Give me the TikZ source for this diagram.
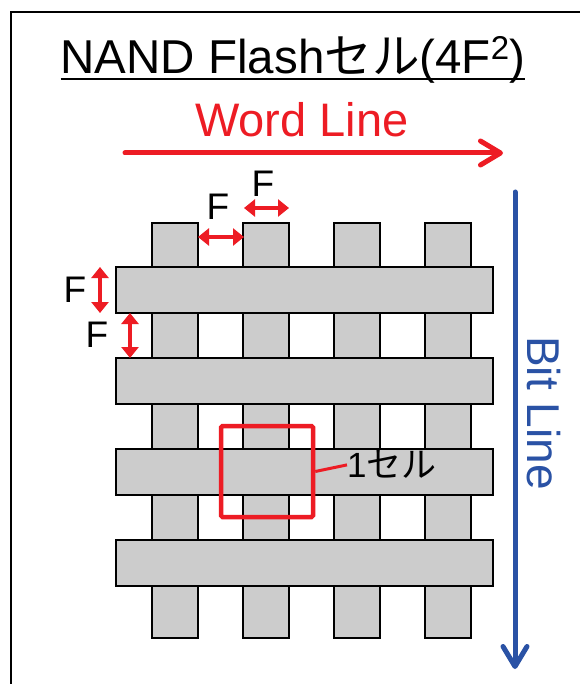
\documentclass[tikz,border=0pt]{standalone}
\usepackage{fontspec}
\setmainfont{Liberation Sans}
\newfontfamily\cjk{Noto Sans CJK JP}
\usetikzlibrary{arrows.meta}
\definecolor{rd}{RGB}{237,28,36}
\definecolor{bl}{RGB}{42,82,165}
\definecolor{gr}{RGB}{204,204,204}
\begin{document}
\begin{tikzpicture}[x=1pt,y=-1pt,
  graybar/.style={fill=gr, draw=black, line width=2pt},
  dimarrow/.style={rd, line width=3.5pt, {Triangle[length=11pt,width=17pt]}-{Triangle[length=11pt,width=17pt]}},
  bigarrow/.style={line width=5pt, line cap=round, -{Straight Barb[length=20pt,width=24pt,round]}},
  flabel/.style={inner sep=0pt, anchor=base, font=\fontsize{37}{37}\selectfont},
  txt/.style={inner sep=0pt}
]
\useasboundingbox (0,0) rectangle (579,684);
\fill[white] (0,0) rectangle (579,684);
% frame
\draw[line width=2pt] (10.5,700) -- (10.5,12) -- (600,12);
% title
\node[txt, anchor=base west] (title) at (60.5,74) {\fontsize{47.5}{47.5}\selectfont NAND Flash{\cjk セル}(4F\raisebox{14pt}{\fontsize{33}{33}\selectfont 2})};
\draw[line width=2.5pt] ([yshift=-5pt]title.base west) -- ([yshift=-5pt]title.base east);
% word line
\node[txt, anchor=base, text=rd] (wl) at (302,137) {\fontsize{47}{47}\selectfont Word Line};
\coordinate (wla) at (125,153);
\coordinate (wlb) at (503,153);
\draw[bigarrow, rd] (wla) -- (wlb);
% bit line
\coordinate (bla) at (515,192);
\coordinate (blb) at (515,669);
\draw[bigarrow, bl] (bla) -- (blb);
\node[txt, anchor=base, rotate=-90, text=bl] (bltxt) at (527,413) {\fontsize{46}{46}\selectfont Bit Line};
% columns
\foreach \i in {0,1,2,3}{
  \draw[graybar] ({152+91*\i},223) rectangle ({198+91*\i},638);
}
% word line bars
\foreach \j in {0,1,2,3}{
  \draw[graybar] (116,{267+91*\j}) rectangle (493,{313+91*\j});
}
% F dimension arrows
\coordinate (h1a) at (198,237); \coordinate (h1b) at (244,237);
\draw[dimarrow] (h1a) -- (h1b);
\node[flabel] (f1) at (218,220) {F};
\coordinate (h2a) at (244,208); \coordinate (h2b) at (289,208);
\draw[dimarrow] (h2a) -- (h2b);
\node[flabel] (f2) at (263,197) {F};
\coordinate (v1a) at (100,267); \coordinate (v1b) at (100,313);
\draw[dimarrow] (v1a) -- (v1b);
\node[flabel] (f3) at (75,302) {F};
\coordinate (v2a) at (130,313); \coordinate (v2b) at (130,358);
\draw[dimarrow] (v2a) -- (v2b);
\node[flabel] (f4) at (97,347) {F};
% one cell
\node[draw=rd, line width=4.5pt, rounded corners=1.5pt, minimum width=92pt, minimum height=91pt, inner sep=0pt] (cell) at (267,471.5) {};
\node[txt, anchor=base west] (celltxt) at (347,477) {\fontsize{35}{35}\selectfont 1{\cjk セル}};
\draw[rd, line width=3pt] (cell.east) -- ([yshift=-1pt]celltxt.west);
\end{tikzpicture}
\end{document}
